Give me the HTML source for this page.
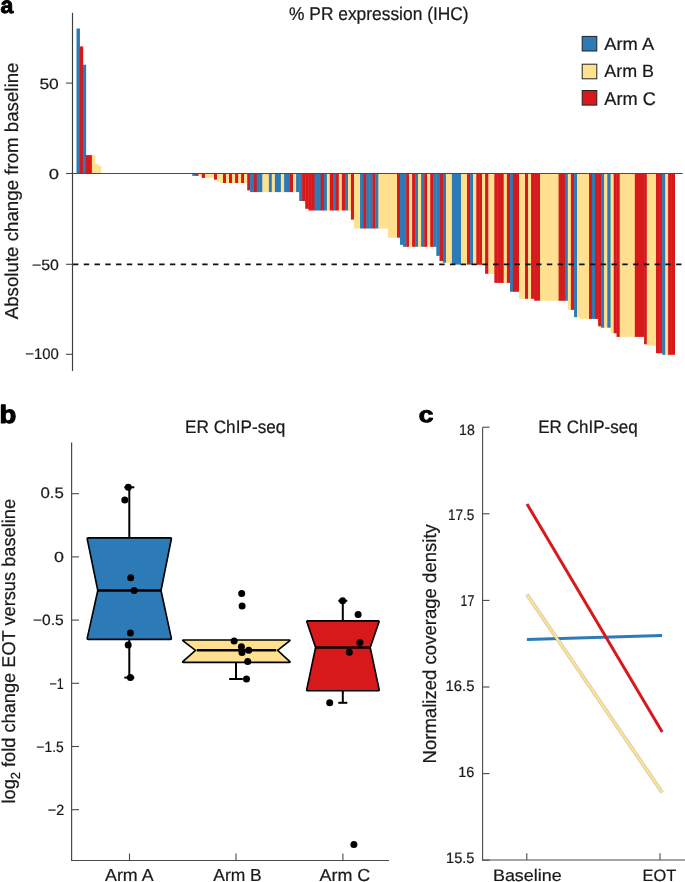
<!DOCTYPE html>
<html><head><meta charset="utf-8"><style>
html,body{margin:0;padding:0;background:#fff;}
svg{display:block;will-change:transform;}
text{font-family:"Liberation Sans",sans-serif;fill:#1a1a1a;stroke:#1a1a1a;stroke-width:0.22px;text-rendering:geometricPrecision;}
</style></head><body>
<svg width="685" height="882" viewBox="0 0 685 882">
<rect width="685" height="882" fill="#fff"/>
<!-- panel a -->
<g>
<rect x="76.5" y="28.5" width="3.45" height="145" fill="#2c7bb6"/>
<rect x="79.6" y="46.4" width="3.6" height="127.1" fill="#d7191c"/>
<rect x="82.85" y="64.7" width="3.3" height="108.8" fill="#2c7bb6"/>
<rect x="85.8" y="155.1" width="3.4" height="18.4" fill="#d7191c"/>
<rect x="88.85" y="155.1" width="3.4" height="18.4" fill="#d7191c"/>
<rect x="91.9" y="155.1" width="3.45" height="18.4" fill="#fee08f"/>
<rect x="95" y="163.9" width="3.35" height="9.6" fill="#fee08f"/>
<rect x="98" y="166" width="3.1" height="7.5" fill="#fee08f"/>
<rect x="192.2" y="173.5" width="3.45" height="2.4" fill="#2c7bb6"/>
<rect x="195.3" y="173.5" width="3.45" height="2.4" fill="#d7191c"/>
<rect x="198.4" y="173.5" width="3.65" height="1.8" fill="#fee08f"/>
<rect x="201.7" y="173.5" width="3.65" height="4.4" fill="#d7191c"/>
<rect x="205" y="173.5" width="3.35" height="4.4" fill="#fee08f"/>
<rect x="208" y="173.5" width="3.35" height="4.4" fill="#fee08f"/>
<rect x="211" y="173.5" width="3.35" height="4.4" fill="#fee08f"/>
<rect x="214" y="173.5" width="3.35" height="6.2" fill="#d7191c"/>
<rect x="217" y="173.5" width="3.55" height="8.2" fill="#fee08f"/>
<rect x="220.2" y="173.5" width="3.15" height="9.5" fill="#fee08f"/>
<rect x="223" y="173.5" width="3.35" height="9.5" fill="#d7191c"/>
<rect x="226" y="173.5" width="3.35" height="9.5" fill="#fee08f"/>
<rect x="229" y="173.5" width="3.35" height="9.5" fill="#d7191c"/>
<rect x="232" y="173.5" width="3.45" height="9.5" fill="#fee08f"/>
<rect x="235.1" y="173.5" width="3.45" height="9.5" fill="#d7191c"/>
<rect x="238.2" y="173.5" width="3.25" height="9.5" fill="#fee08f"/>
<rect x="241.1" y="173.5" width="3.25" height="9.5" fill="#d7191c"/>
<rect x="244" y="173.5" width="3.55" height="9.5" fill="#fee08f"/>
<rect x="247.2" y="173.5" width="3.25" height="16.9" fill="#d7191c"/>
<rect x="250.1" y="173.5" width="3.65" height="18.6" fill="#2c7bb6"/>
<rect x="253.4" y="173.5" width="3.65" height="18.6" fill="#d7191c"/>
<rect x="256.7" y="173.5" width="3.2" height="18.6" fill="#2c7bb6"/>
<rect x="259.55" y="173.5" width="3.2" height="18.6" fill="#2c7bb6"/>
<rect x="262.4" y="173.5" width="3.6" height="18.6" fill="#fee08f"/>
<rect x="265.65" y="173.5" width="3.6" height="18.6" fill="#fee08f"/>
<rect x="268.9" y="173.5" width="3.25" height="18.6" fill="#2c7bb6"/>
<rect x="271.8" y="173.5" width="3.45" height="18.6" fill="#fee08f"/>
<rect x="274.9" y="173.5" width="3.35" height="18.6" fill="#2c7bb6"/>
<rect x="277.9" y="173.5" width="3.35" height="18.6" fill="#2c7bb6"/>
<rect x="280.9" y="173.5" width="3.55" height="18.6" fill="#fee08f"/>
<rect x="284.1" y="173.5" width="3.25" height="18.6" fill="#2c7bb6"/>
<rect x="287" y="173.5" width="3.25" height="18.6" fill="#2c7bb6"/>
<rect x="289.9" y="173.5" width="3.45" height="18.6" fill="#d7191c"/>
<rect x="293" y="173.5" width="3.45" height="18.6" fill="#fee08f"/>
<rect x="296.1" y="173.5" width="3.45" height="18.6" fill="#2c7bb6"/>
<rect x="299.2" y="173.5" width="3.25" height="27.5" fill="#2c7bb6"/>
<rect x="302.1" y="173.5" width="3.45" height="27.5" fill="#d7191c"/>
<rect x="305.2" y="173.5" width="3.65" height="35.3" fill="#d7191c"/>
<rect x="308.5" y="173.5" width="3.4" height="37" fill="#d7191c"/>
<rect x="311.55" y="173.5" width="3.4" height="37" fill="#d7191c"/>
<rect x="314.6" y="173.5" width="3.4" height="37" fill="#2c7bb6"/>
<rect x="317.65" y="173.5" width="3.4" height="37" fill="#2c7bb6"/>
<rect x="320.7" y="173.5" width="3.45" height="37" fill="#d7191c"/>
<rect x="323.8" y="173.5" width="3.45" height="37" fill="#2c7bb6"/>
<rect x="326.9" y="173.5" width="3.25" height="37" fill="#fee08f"/>
<rect x="329.8" y="173.5" width="3.55" height="37" fill="#d7191c"/>
<rect x="333" y="173.5" width="3.25" height="37" fill="#2c7bb6"/>
<rect x="335.9" y="173.5" width="3.25" height="37" fill="#d7191c"/>
<rect x="338.8" y="173.5" width="3.35" height="37" fill="#fee08f"/>
<rect x="341.8" y="173.5" width="3.6" height="37" fill="#d7191c"/>
<rect x="345.05" y="173.5" width="3.3" height="37" fill="#2c7bb6"/>
<rect x="348" y="173.5" width="3.25" height="37" fill="#fee08f"/>
<rect x="350.9" y="173.5" width="3.45" height="46.1" fill="#d7191c"/>
<rect x="354" y="173.5" width="3.38" height="55" fill="#fee08f"/>
<rect x="357.03" y="173.5" width="3.38" height="55" fill="#fee08f"/>
<rect x="360.06" y="173.5" width="3.44" height="55" fill="#2c7bb6"/>
<rect x="363.15" y="173.5" width="3.6" height="55" fill="#d7191c"/>
<rect x="366.4" y="173.5" width="3.4" height="55" fill="#2c7bb6"/>
<rect x="369.45" y="173.5" width="3.4" height="55" fill="#2c7bb6"/>
<rect x="372.5" y="173.5" width="3.05" height="55" fill="#d7191c"/>
<rect x="375.2" y="173.5" width="3.55" height="55" fill="#2c7bb6"/>
<rect x="378.4" y="173.5" width="3.48" height="55" fill="#fee08f"/>
<rect x="381.53" y="173.5" width="3.48" height="55" fill="#fee08f"/>
<rect x="384.67" y="173.5" width="3.48" height="55" fill="#fee08f"/>
<rect x="387.8" y="173.5" width="3.42" height="64.15" fill="#fee08f"/>
<rect x="390.87" y="173.5" width="3.42" height="64.15" fill="#fee08f"/>
<rect x="393.93" y="173.5" width="3.42" height="64.15" fill="#fee08f"/>
<rect x="397" y="173.5" width="3.35" height="64.15" fill="#d7191c"/>
<rect x="400" y="173.5" width="3.3" height="71.3" fill="#2c7bb6"/>
<rect x="402.95" y="173.5" width="3.6" height="73.3" fill="#2c7bb6"/>
<rect x="406.2" y="173.5" width="3.15" height="73.3" fill="#d7191c"/>
<rect x="409" y="173.5" width="3.45" height="73.3" fill="#fee08f"/>
<rect x="412.1" y="173.5" width="3.35" height="73.3" fill="#d7191c"/>
<rect x="415.1" y="173.5" width="3.29" height="73.3" fill="#2c7bb6"/>
<rect x="418.04" y="173.5" width="3.41" height="73.3" fill="#fee08f"/>
<rect x="421.1" y="173.5" width="3.45" height="73.3" fill="#2c7bb6"/>
<rect x="424.2" y="173.5" width="3.45" height="73.3" fill="#d7191c"/>
<rect x="427.3" y="173.5" width="3.25" height="73.3" fill="#fee08f"/>
<rect x="430.2" y="173.5" width="3.55" height="73.3" fill="#d7191c"/>
<rect x="433.4" y="173.5" width="3.25" height="73.3" fill="#2c7bb6"/>
<rect x="436.3" y="173.5" width="3.55" height="82.35" fill="#2c7bb6"/>
<rect x="439.5" y="173.5" width="3.75" height="87.5" fill="#d7191c"/>
<rect x="442.9" y="173.5" width="3.45" height="89.2" fill="#2c7bb6"/>
<rect x="446" y="173.5" width="3.3" height="89.7" fill="#fee08f"/>
<rect x="448.95" y="173.5" width="3.3" height="89.7" fill="#fee08f"/>
<rect x="451.9" y="173.5" width="3.38" height="91.1" fill="#2c7bb6"/>
<rect x="454.93" y="173.5" width="3.38" height="91.1" fill="#2c7bb6"/>
<rect x="457.97" y="173.5" width="3.38" height="91.1" fill="#2c7bb6"/>
<rect x="461" y="173.5" width="3.35" height="91.1" fill="#fee08f"/>
<rect x="464" y="173.5" width="3.35" height="91.1" fill="#fee08f"/>
<rect x="467" y="173.5" width="3.45" height="91.1" fill="#d7191c"/>
<rect x="470.1" y="173.5" width="3.35" height="91.1" fill="#2c7bb6"/>
<rect x="473.1" y="173.5" width="3.55" height="91.1" fill="#fee08f"/>
<rect x="476.3" y="173.5" width="3.2" height="91.3" fill="#d7191c"/>
<rect x="479.15" y="173.5" width="3.2" height="91.3" fill="#d7191c"/>
<rect x="482" y="173.5" width="3.45" height="91.3" fill="#fee08f"/>
<rect x="485.1" y="173.5" width="3.65" height="100.3" fill="#d7191c"/>
<rect x="488.4" y="173.5" width="3.33" height="100.3" fill="#fee08f"/>
<rect x="491.38" y="173.5" width="3.33" height="100.3" fill="#fee08f"/>
<rect x="494.35" y="173.5" width="3.47" height="109.4" fill="#d7191c"/>
<rect x="497.47" y="173.5" width="3.47" height="109.4" fill="#d7191c"/>
<rect x="500.58" y="173.5" width="3.47" height="109.4" fill="#d7191c"/>
<rect x="503.7" y="173.5" width="3.55" height="109.4" fill="#fee08f"/>
<rect x="506.9" y="173.5" width="3.45" height="109.4" fill="#d7191c"/>
<rect x="510" y="173.5" width="3.25" height="118.3" fill="#2c7bb6"/>
<rect x="512.9" y="173.5" width="3.4" height="118.3" fill="#d7191c"/>
<rect x="515.95" y="173.5" width="3.4" height="118.3" fill="#d7191c"/>
<rect x="519" y="173.5" width="3.35" height="125.3" fill="#fee08f"/>
<rect x="522" y="173.5" width="3.35" height="125.3" fill="#fee08f"/>
<rect x="525" y="173.5" width="3.35" height="125.3" fill="#d7191c"/>
<rect x="528" y="173.5" width="3.4" height="125.3" fill="#fee08f"/>
<rect x="531.05" y="173.5" width="3.4" height="125.3" fill="#d7191c"/>
<rect x="534.1" y="173.5" width="3.3" height="127.2" fill="#d7191c"/>
<rect x="537.05" y="173.5" width="3.3" height="127.2" fill="#d7191c"/>
<rect x="540" y="173.5" width="3.45" height="127.3" fill="#fee08f"/>
<rect x="543.1" y="173.5" width="3.45" height="127.3" fill="#fee08f"/>
<rect x="546.2" y="173.5" width="3.45" height="127.3" fill="#fee08f"/>
<rect x="549.3" y="173.5" width="3.45" height="127.3" fill="#fee08f"/>
<rect x="552.4" y="173.5" width="3.45" height="127.3" fill="#fee08f"/>
<rect x="555.5" y="173.5" width="3.45" height="127.3" fill="#fee08f"/>
<rect x="558.6" y="173.5" width="3.5" height="127.3" fill="#d7191c"/>
<rect x="561.75" y="173.5" width="3.5" height="127.3" fill="#d7191c"/>
<rect x="564.9" y="173.5" width="3.25" height="127.3" fill="#2c7bb6"/>
<rect x="567.8" y="173.5" width="3.45" height="136.35" fill="#fee08f"/>
<rect x="570.9" y="173.5" width="3.51" height="136.35" fill="#d7191c"/>
<rect x="574.06" y="173.5" width="3.29" height="143.65" fill="#2c7bb6"/>
<rect x="577" y="173.5" width="3.42" height="143.65" fill="#fee08f"/>
<rect x="580.07" y="173.5" width="3.33" height="145.4" fill="#fee08f"/>
<rect x="583.05" y="173.5" width="3.33" height="145.4" fill="#fee08f"/>
<rect x="586.02" y="173.5" width="3.33" height="145.4" fill="#fee08f"/>
<rect x="589" y="173.5" width="3.35" height="145.4" fill="#d7191c"/>
<rect x="592" y="173.5" width="3.39" height="145.4" fill="#2c7bb6"/>
<rect x="595.04" y="173.5" width="3.41" height="145.4" fill="#d7191c"/>
<rect x="598.1" y="173.5" width="3.31" height="152.8" fill="#d7191c"/>
<rect x="601.06" y="173.5" width="3.44" height="154.2" fill="#2c7bb6"/>
<rect x="604.15" y="173.5" width="3.5" height="154.2" fill="#fee08f"/>
<rect x="607.3" y="173.5" width="3.65" height="154.2" fill="#2c7bb6"/>
<rect x="610.6" y="173.5" width="3.45" height="159.5" fill="#fee08f"/>
<rect x="613.7" y="173.5" width="3.15" height="159.8" fill="#d7191c"/>
<rect x="616.5" y="173.5" width="3.55" height="163.4" fill="#d7191c"/>
<rect x="619.7" y="173.5" width="3.37" height="163.4" fill="#fee08f"/>
<rect x="622.72" y="173.5" width="3.37" height="163.4" fill="#fee08f"/>
<rect x="625.74" y="173.5" width="3.37" height="163.4" fill="#fee08f"/>
<rect x="628.76" y="173.5" width="3.37" height="163.4" fill="#fee08f"/>
<rect x="631.78" y="173.5" width="3.37" height="163.4" fill="#fee08f"/>
<rect x="634.8" y="173.5" width="3.45" height="163.4" fill="#d7191c"/>
<rect x="637.9" y="173.5" width="3.45" height="163.4" fill="#d7191c"/>
<rect x="641" y="173.5" width="3.45" height="163.4" fill="#d7191c"/>
<rect x="644.1" y="173.5" width="3.05" height="170.8" fill="#d7191c"/>
<rect x="646.8" y="173.5" width="3.42" height="172.3" fill="#fee08f"/>
<rect x="649.87" y="173.5" width="3.42" height="172.3" fill="#fee08f"/>
<rect x="652.93" y="173.5" width="3.42" height="172.3" fill="#fee08f"/>
<rect x="656" y="173.5" width="3.45" height="179.7" fill="#d7191c"/>
<rect x="659.1" y="173.5" width="3.45" height="179.7" fill="#d7191c"/>
<rect x="662.2" y="173.5" width="3.45" height="181.3" fill="#2c7bb6"/>
<rect x="665.3" y="173.5" width="3.15" height="181.3" fill="#fee08f"/>
<rect x="668.1" y="173.5" width="3.8" height="181.3" fill="#d7191c"/>
<rect x="671.55" y="173.5" width="3.45" height="181.3" fill="#d7191c"/>
</g>
<line x1="72.6" y1="173.5" x2="682.8" y2="173.5" stroke="#4a4a4a" stroke-width="1.1"/>
<line x1="73" y1="264.4" x2="681.5" y2="264.4" stroke="#111" stroke-width="1.7" stroke-dasharray="5.4 5.37"/>
<line x1="72.5" y1="12.8" x2="72.5" y2="371" stroke="#3c3c3c" stroke-width="1.15"/>
<line x1="66" y1="83.1" x2="72.6" y2="83.1" stroke="#4a4a4a" stroke-width="1.1"/>
<line x1="66" y1="173.5" x2="72.6" y2="173.5" stroke="#4a4a4a" stroke-width="1.1"/>
<line x1="66" y1="264.3" x2="72.6" y2="264.3" stroke="#4a4a4a" stroke-width="1.1"/>
<line x1="66" y1="354.3" x2="72.6" y2="354.3" stroke="#4a4a4a" stroke-width="1.1"/>
<rect x="582.2" y="36.4" width="14.6" height="14.6" fill="#2c7bb6" stroke="#222" stroke-width="1"/>
<rect x="582.2" y="64.2" width="14.6" height="14.6" fill="#fee08f" stroke="#222" stroke-width="1"/>
<rect x="582.2" y="90.5" width="14.6" height="14.6" fill="#d7191c" stroke="#222" stroke-width="1"/>
<!-- panel b -->
<line x1="71.6" y1="442.4" x2="71.6" y2="861" stroke="#4a4a4a" stroke-width="1.2"/>
<line x1="71.5" y1="860.5" x2="389" y2="860.5" stroke="#4a4a4a" stroke-width="1.1"/>
<line x1="71.6" y1="493.7" x2="79" y2="493.7" stroke="#4a4a4a" stroke-width="1.1"/>
<line x1="71.6" y1="556.9" x2="79" y2="556.9" stroke="#4a4a4a" stroke-width="1.1"/>
<line x1="71.6" y1="620.1" x2="79" y2="620.1" stroke="#4a4a4a" stroke-width="1.1"/>
<line x1="71.6" y1="683.3" x2="79" y2="683.3" stroke="#4a4a4a" stroke-width="1.1"/>
<line x1="71.6" y1="746.5" x2="79" y2="746.5" stroke="#4a4a4a" stroke-width="1.1"/>
<line x1="71.6" y1="809.7" x2="79" y2="809.7" stroke="#4a4a4a" stroke-width="1.1"/>
<line x1="129.5" y1="853.5" x2="129.5" y2="860.5" stroke="#4a4a4a" stroke-width="1.1"/>
<line x1="236" y1="853.5" x2="236" y2="860.5" stroke="#4a4a4a" stroke-width="1.1"/>
<line x1="342.9" y1="853.5" x2="342.9" y2="860.5" stroke="#4a4a4a" stroke-width="1.1"/>
<line x1="129.3" y1="537.8" x2="129.3" y2="487.3" stroke="#000" stroke-width="2"/><line x1="124.30000000000001" y1="487.3" x2="134.3" y2="487.3" stroke="#000" stroke-width="2"/>
<line x1="129.3" y1="639.3" x2="129.3" y2="677.6" stroke="#000" stroke-width="2"/><line x1="124.30000000000001" y1="677.6" x2="134.3" y2="677.6" stroke="#000" stroke-width="2"/>
<path d="M87.26,539.07 Q87.00,537.80 88.30,537.80 L170.30,537.80 Q171.60,537.80 171.34,539.07 L161.00,590.50 L171.32,638.13 Q171.60,639.40 170.30,639.40 L88.30,639.40 Q87.00,639.40 87.28,638.13 L97.80,590.50 Z" fill="#2c7bb6" stroke="#000" stroke-width="1.65" stroke-linejoin="round"/><line x1="97.8" y1="590.5" x2="161" y2="590.5" stroke="#000" stroke-width="2.4"/>
<line x1="236" y1="661.8" x2="236" y2="679" stroke="#000" stroke-width="2"/><line x1="229.2" y1="679" x2="242.8" y2="679" stroke="#000" stroke-width="2"/>
<path d="M183.13,640.79 Q182.10,640.00 183.40,640.00 L289.30,640.00 Q290.60,640.00 289.58,640.81 L277.60,650.30 L289.64,661.42 Q290.60,662.30 289.30,662.30 L183.40,662.30 Q182.10,662.30 183.07,661.43 L195.50,650.30 Z" fill="#fee08f" stroke="#000" stroke-width="1.65" stroke-linejoin="round"/><line x1="196.8" y1="650.3" x2="276.3" y2="650.3" stroke="#000" stroke-width="2.4"/>
<line x1="342.8" y1="620.8" x2="342.8" y2="600.8" stroke="#000" stroke-width="2"/><line x1="338.3" y1="600.8" x2="347.3" y2="600.8" stroke="#000" stroke-width="2"/>
<line x1="342.8" y1="690.7" x2="342.8" y2="702.8" stroke="#000" stroke-width="2"/><line x1="338.3" y1="702.8" x2="347.3" y2="702.8" stroke="#000" stroke-width="2"/>
<path d="M306.92,622.03 Q306.50,620.80 307.80,620.80 L378.10,620.80 Q379.40,620.80 378.98,622.03 L370.20,647.50 L379.13,689.43 Q379.40,690.70 378.10,690.70 L307.80,690.70 Q306.50,690.70 306.77,689.43 L315.60,647.50 Z" fill="#d7191c" stroke="#000" stroke-width="1.65" stroke-linejoin="round"/><line x1="315.6" y1="647.5" x2="370.2" y2="647.5" stroke="#000" stroke-width="2.4"/>
<circle cx="128.3" cy="487.3" r="3.5" fill="#000"/>
<circle cx="124.8" cy="500" r="3.5" fill="#000"/>
<circle cx="130.7" cy="577.8" r="3.5" fill="#000"/>
<circle cx="134.1" cy="590.5" r="3.5" fill="#000"/>
<circle cx="130.4" cy="633" r="3.5" fill="#000"/>
<circle cx="128.2" cy="645.1" r="3.5" fill="#000"/>
<circle cx="130.4" cy="677.6" r="3.5" fill="#000"/>
<circle cx="241.7" cy="593.4" r="3.5" fill="#000"/>
<circle cx="242.1" cy="606.1" r="3.5" fill="#000"/>
<circle cx="234.1" cy="641" r="3.5" fill="#000"/>
<circle cx="241.4" cy="646.8" r="3.5" fill="#000"/>
<circle cx="242" cy="652.6" r="3.5" fill="#000"/>
<circle cx="248.7" cy="650.3" r="3.5" fill="#000"/>
<circle cx="247.7" cy="661.4" r="3.5" fill="#000"/>
<circle cx="246.5" cy="679" r="3.5" fill="#000"/>
<circle cx="342.6" cy="600.8" r="3.5" fill="#000"/>
<circle cx="358.1" cy="614.4" r="3.5" fill="#000"/>
<circle cx="359.9" cy="642.4" r="3.5" fill="#000"/>
<circle cx="349.3" cy="652.2" r="3.5" fill="#000"/>
<circle cx="329.7" cy="702.8" r="3.5" fill="#000"/>
<circle cx="353.9" cy="844.5" r="3.5" fill="#000"/>
<!-- panel c -->
<line x1="482.6" y1="427.2" x2="482.6" y2="860.5" stroke="#4a4a4a" stroke-width="1.1"/>
<line x1="482" y1="860" x2="685" y2="860" stroke="#4a4a4a" stroke-width="1.1"/>
<line x1="482.6" y1="427.2" x2="489.5" y2="427.2" stroke="#4a4a4a" stroke-width="1.1"/>
<line x1="482.6" y1="513.8" x2="489.5" y2="513.8" stroke="#4a4a4a" stroke-width="1.1"/>
<line x1="482.6" y1="600.4" x2="489.5" y2="600.4" stroke="#4a4a4a" stroke-width="1.1"/>
<line x1="482.6" y1="687" x2="489.5" y2="687" stroke="#4a4a4a" stroke-width="1.1"/>
<line x1="482.6" y1="773.6" x2="489.5" y2="773.6" stroke="#4a4a4a" stroke-width="1.1"/>
<line x1="482.6" y1="860.2" x2="489.5" y2="860.2" stroke="#4a4a4a" stroke-width="1.1"/>
<line x1="526.8" y1="853.2" x2="526.8" y2="860" stroke="#4a4a4a" stroke-width="1.1"/>
<line x1="660" y1="853.2" x2="660" y2="860" stroke="#4a4a4a" stroke-width="1.1"/>
<line x1="526.9" y1="639.5" x2="662.1" y2="635.5" stroke="#2c7bb6" stroke-width="3"/>
<line x1="526.9" y1="594.5" x2="662.2" y2="792.5" stroke="#76827f" stroke-opacity="0.55" stroke-width="3.6"/>
<line x1="526.9" y1="594.5" x2="662.2" y2="792.5" stroke="#fee08f" stroke-width="2.7"/>
<line x1="527" y1="504" x2="662.2" y2="732.1" stroke="#d7191c" stroke-width="3"/>
<text transform="translate(0.55,13.06) scale(0.8843,0.8858)" font-size="26" font-weight="bold" style="fill:#000;stroke:#000;stroke-width:1.1px;stroke-linejoin:round">a</text>
<text transform="translate(-0.42,422.79) scale(1.0589,0.9645)" font-size="26" font-weight="bold" style="fill:#000;stroke:#000;stroke-width:1.1px;stroke-linejoin:round">b</text>
<text transform="translate(418.67,422.31) scale(1.0169,0.8382)" font-size="26" font-weight="bold" style="fill:#000;stroke:#000;stroke-width:1.1px;stroke-linejoin:round">c</text>
<text transform="translate(289.00,20.09) scale(0.9994,1.0568)" font-size="17.4">% PR expression (IHC)</text>
<text transform="translate(604.24,50.00) scale(1.0186,0.9891)" font-size="18">Arm A</text>
<text transform="translate(604.25,77.25) scale(0.9960,0.9891)" font-size="18">Arm B</text>
<text transform="translate(604.24,104.50) scale(1.0112,1.0246)" font-size="18">Arm C</text>
<text transform="translate(17.60,319.25) rotate(-90) scale(1.0105,1.0120)" font-size="18.5">Absolute change from baseline</text>
<text transform="translate(39.43,88.78) scale(1.0887,0.9285)" font-size="16">50</text>
<text transform="translate(48.67,178.78) scale(1.1511,0.9025)" font-size="16">0</text>
<text transform="translate(32.00,269.76) scale(0.9929,0.9324)" font-size="16">&#8722;50</text>
<text transform="translate(25.30,359.28) scale(0.9311,0.9468)" font-size="16">&#8722;100</text>
<text transform="translate(184.98,432.74) scale(1.0119,1.0606)" font-size="17">ER ChIP-seq</text>
<text transform="translate(40.46,498.07) scale(1.0504,0.9542)" font-size="16">0.5</text>
<text transform="translate(53.90,561.76) scale(1.1144,0.9193)" font-size="16">0</text>
<text transform="translate(33.01,625.02) scale(0.9724,0.9324)" font-size="16">&#8722;0.5</text>
<text transform="translate(49.42,688.50) scale(0.7796,0.9471)" font-size="16">&#8722;1</text>
<text transform="translate(36.35,751.53) scale(0.8663,0.9339)" font-size="16">&#8722;1.5</text>
<text transform="translate(47.82,815.48) scale(0.8940,0.9215)" font-size="16">&#8722;2</text>
<text transform="translate(105.00,880.99) scale(1.0137,0.9930)" font-size="17.6">Arm A</text>
<text transform="translate(213.25,880.99) scale(0.9918,0.9930)" font-size="17.6">Arm B</text>
<text transform="translate(319.49,880.75) scale(1.0196,0.9804)" font-size="17.6">Arm C</text>
<text transform="translate(15.36,803.54) rotate(-90) scale(1.0353,1.0520)" font-size="17.6">log<tspan font-size="12.5" dy="4">2</tspan><tspan dy="-4"> fold change EOT versus baseline</tspan></text>
<text transform="translate(538.25,432.56) scale(1.0016,1.0606)" font-size="17">ER ChIP-seq</text>
<text transform="translate(459.09,434.52) scale(0.9058,0.9663)" font-size="15.5">18</text>
<text transform="translate(447.89,520.04) scale(0.8765,0.9748)" font-size="15.5">17.5</text>
<text transform="translate(460.48,606.24) scale(0.8036,1.0058)" font-size="15.5">17</text>
<text transform="translate(445.54,691.25) scale(0.9581,0.9743)" font-size="15.5">16.5</text>
<text transform="translate(458.33,777.26) scale(0.9291,0.9471)" font-size="15.5">16</text>
<text transform="translate(446.06,862.76) scale(0.9408,0.9697)" font-size="15.5">15.5</text>
<text transform="translate(492.96,880.76) scale(1.0302,0.9612)" font-size="17.4">Baseline</text>
<text transform="translate(642.51,880.50) scale(0.9925,0.9966)" font-size="16.5">EOT</text>
<text transform="translate(435.84,763.53) rotate(-90) scale(1.0156,1.0270)" font-size="18.3">Normalized coverage density</text>
</svg>
</body></html>
